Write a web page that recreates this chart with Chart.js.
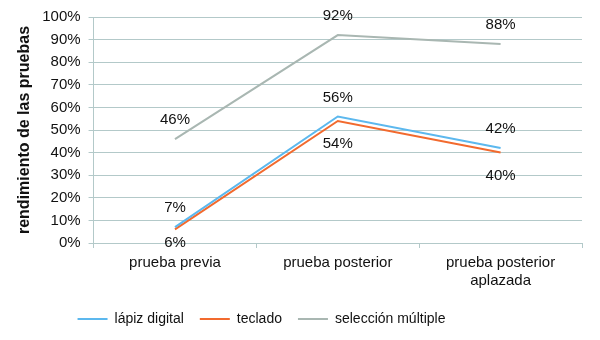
<!DOCTYPE html>
<html>
<head>
<meta charset="utf-8">
<script src="https://cdn.jsdelivr.net/npm/chart.js@4"></script>
<style>
  body { margin: 0; background: #fff; }
  #wrap { width: 600px; height: 340px; }
</style>
</head>
<body>
<div id="wrap"><canvas id="myChart"></canvas></div>
<script>
// datos
var categorias = [['prueba previa'], ['prueba posterior'], ['prueba posterior', 'aplazada']];
var lapizDigital = [7, 56, 42];
var teclado = [6, 54, 40];
var seleccionMultiple = [46, 92, 88];
var ticksY = [0, 10, 20, 30, 40, 50, 60, 70, 80, 90, 100];

var fuente = '"Liberation Sans", Arial, sans-serif';

// etiquetas de valor encima / debajo de cada punto
var etiquetas = {
  id: 'etiquetas',
  afterDatasetsDraw: function(chart) {
    var ctx = chart.ctx;
    var area = chart.chartArea;
    ctx.save();
    ctx.font = '15px ' + fuente;
    ctx.fillStyle = '#111';
    ctx.textAlign = 'center';
    ctx.textBaseline = 'middle';
    chart.data.datasets.forEach(function(ds, i) {
      var meta = chart.getDatasetMeta(i);
      meta.data.forEach(function(pt, j) {
        var y;
        if (ds.etiqueta === 'abajo') {
          y = Math.min(pt.y + 23, area.bottom);
        } else {
          y = pt.y - 19;
        }
        ctx.fillText(ds.data[j] + '%', pt.x, y);
      });
    });
    ctx.restore();
  }
};

// mover la leyenda un poco a la izquierda, como en el original
var moverLeyenda = {
  id: 'moverLeyenda',
  afterLayout: function(chart) {
    chart.legend.left -= 36;
    chart.legend.right -= 36;
  }
};

var ctx = document.getElementById('myChart').getContext('2d');
var myChart = new Chart(ctx, {
  type: 'line',
  data: {
    labels: categorias,
    datasets: [{
      label: 'lápiz digital',
      data: lapizDigital,
      borderColor: '#5cb8ee',
      backgroundColor: '#5cb8ee',
      borderWidth: 2,
      pointRadius: 0,
      tension: 0,
      etiqueta: 'arriba'
    }, {
      label: 'teclado',
      data: teclado,
      borderColor: '#f26a2e',
      backgroundColor: '#f26a2e',
      borderWidth: 2,
      pointRadius: 0,
      tension: 0,
      etiqueta: 'abajo'
    }, {
      label: 'selección múltiple',
      data: seleccionMultiple,
      borderColor: '#a9b7b2',
      backgroundColor: '#a9b7b2',
      borderWidth: 2,
      pointRadius: 0,
      tension: 0,
      etiqueta: 'arriba'
    }]
  },
  options: {
    responsive: true,
    maintainAspectRatio: false,
    animation: false,
    layout: { padding: { top: 0, right: 18, left: 13, bottom: 4 } },
    plugins: {
      tooltip: { enabled: false },
      legend: {
        position: 'bottom',
        labels: {
          usePointStyle: true,
          pointStyle: 'line',
          pointStyleWidth: 30,
          padding: 16,
          color: '#111',
          font: { family: fuente, size: 14 }
        }
      }
    },
    scales: {
      x: {
        offset: true,
        grid: { drawOnChartArea: false, drawTicks: true, tickLength: 5, offset: true, color: '#b3c9c9' },
        border: { color: '#b3c9c9' },
        ticks: {
          color: '#111',
          padding: 6,
          maxRotation: 0,
          font: { family: fuente, size: 15 }
        }
      },
      y: {
        min: 0,
        max: 100,
        afterBuildTicks: function(axis) {
          axis.ticks = ticksY.map(function(v) { return { value: v }; });
        },
        grid: { color: '#b3c9c9', tickLength: 5 },
        border: { color: '#b3c9c9' },
        ticks: {
          color: '#111',
          padding: 8,
          font: { family: fuente, size: 15 },
          callback: function(value) { return value + '%'; }
        },
        title: {
          display: true,
          text: 'rendimiento de las pruebas',
          color: '#111',
          padding: { top: 2, bottom: 0 },
          font: { family: fuente, size: 16, weight: 'bold' }
        }
      }
    }
  },
  plugins: [etiquetas, moverLeyenda]
});
</script>
</body>
</html>
